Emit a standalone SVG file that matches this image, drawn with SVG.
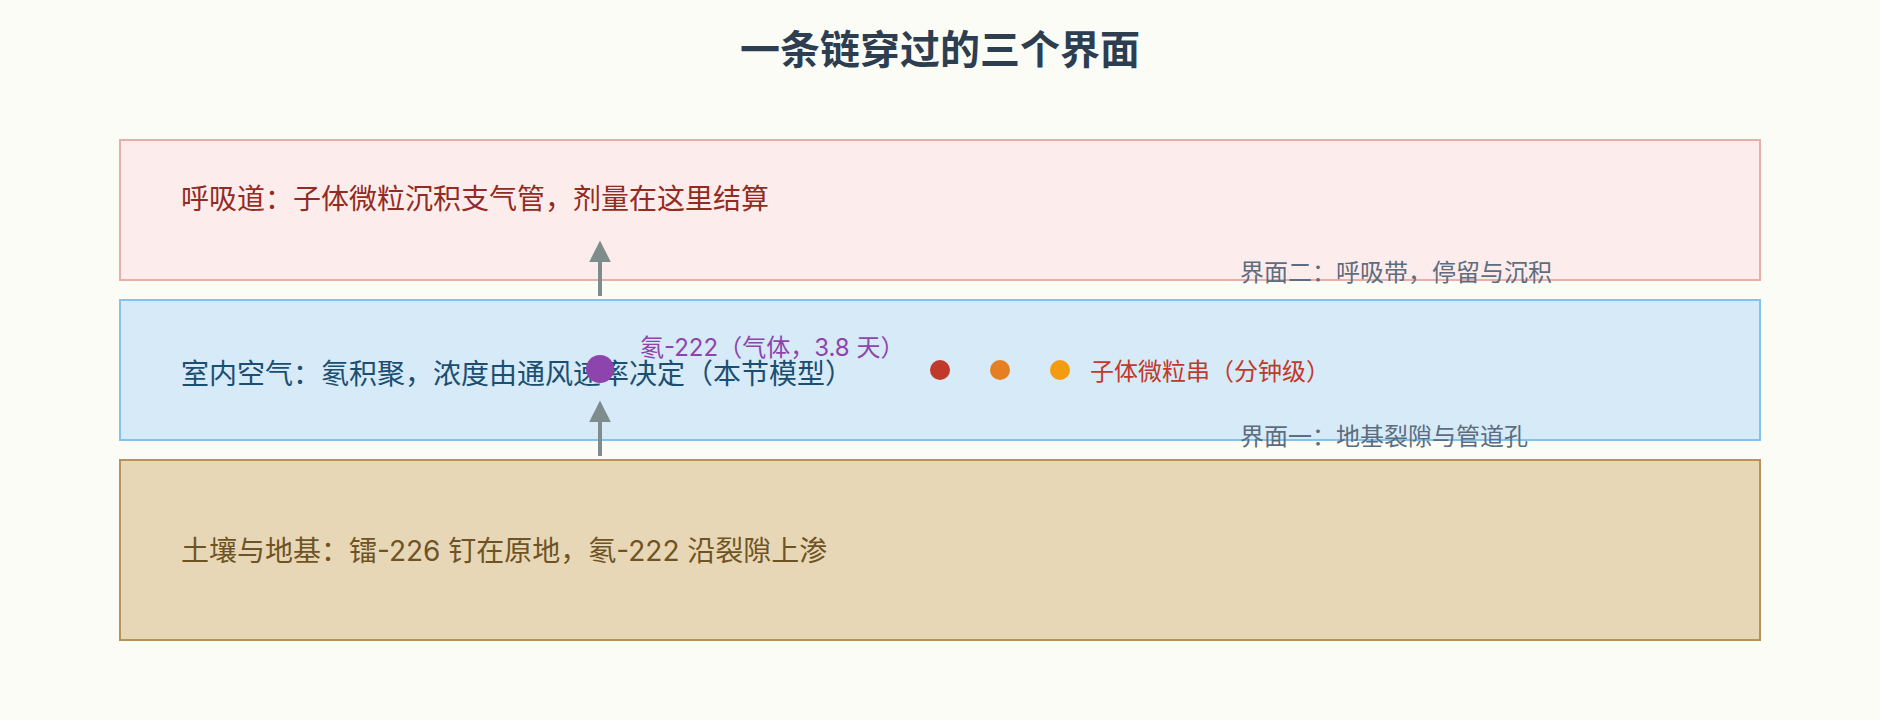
<svg xmlns="http://www.w3.org/2000/svg" width="1880" height="720" viewBox="0 0 1880 720">
  <style>
    text { font-family: Inter, "Noto Sans CJK SC", sans-serif; }
    .title { font-size: 40px; font-weight: bold; fill: #2c3e50; }
    .main { font-size: 28px; }
    .lbl { font-size: 24px; }
    .iface { font-size: 24px; fill: #5d6d7e; }
    .conn { stroke: #7f8c8d; stroke-width: 4; fill: none; }
  </style>
  <defs>
    <marker id="arrow" viewBox="0 0 10 10" refX="2" refY="5" markerWidth="5.5" markerHeight="5.5" orient="auto" markerUnits="strokeWidth">
      <path d="M0,0 L10,5 L0,10 Z" fill="#7f8c8d"/>
    </marker>
  </defs>
  <rect x="0" y="0" width="1880" height="720" fill="#fcfcf7"/>
  <text class="title" x="940" y="64" text-anchor="middle">一条链穿过的三个界面</text>

  <g id="respiratory">
    <rect x="120" y="140" width="1640" height="140" fill="#fdecec" stroke="#e6b0aa" stroke-width="2"/>
    <text class="main" x="181" y="209" fill="#922b21">呼吸道：子体微粒沉积支气管，剂量在这里结算</text>
  </g>

  <g id="indoor">
    <rect x="120" y="300" width="1640" height="140" fill="#d6eaf8" stroke="#85c1e9" stroke-width="2"/>
    <text class="main" x="181" y="384" fill="#1b4f72">室内空气：氡积聚，浓度由通风速率决定（本节模型）</text>
  </g>

  <g id="soil">
    <rect x="120" y="460" width="1640" height="180" fill="#e8d7b6" stroke="#b8925a" stroke-width="2"/>
    <text class="main" x="181" y="561" fill="#6e5424">土壤与地基：镭-226 钉在原地，氡-222 沿裂隙上渗</text>
  </g>

  <g id="connectors">
    <line class="conn" x1="600" y1="456" x2="600" y2="418" marker-end="url(#arrow)"/>
    <line class="conn" x1="600" y1="296" x2="600" y2="258" marker-end="url(#arrow)"/>
  </g>

  <g id="radon">
    <circle cx="600" cy="369" r="14" fill="#8e44ad"/>
    <text class="lbl" x="640" y="356" fill="#8e44ad">氡-222（气体，3.8 天）</text>
  </g>

  <g id="daughters">
    <circle cx="940" cy="370" r="10" fill="#c0392b"/>
    <circle cx="1000" cy="370" r="10" fill="#e67e22"/>
    <circle cx="1060" cy="370" r="10" fill="#f39c12"/>
    <text class="lbl" x="1090" y="380" fill="#c0392b">子体微粒串（分钟级）</text>
  </g>

  <g id="interface2">
    <text class="iface" x="1240" y="281">界面二：呼吸带，停留与沉积</text>
  </g>
  <g id="interface1">
    <text class="iface" x="1240" y="445">界面一：地基裂隙与管道孔</text>
  </g>
</svg>
